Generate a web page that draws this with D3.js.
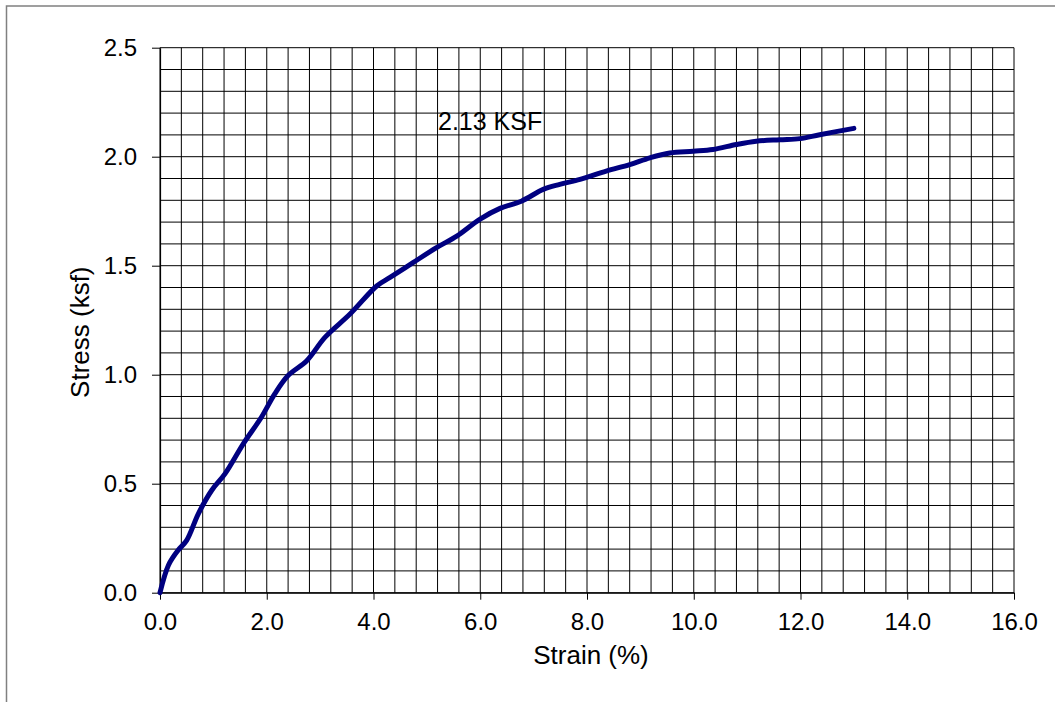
<!DOCTYPE html>
<html>
<head>
<meta charset="utf-8">
<script src="https://cdn.jsdelivr.net/npm/d3@7"></script>
<style>
  body { margin: 0; background: #fff; }
  text { font-family: Arial, "Liberation Sans", sans-serif; fill: #000; }
</style>
</head>
<body>
<script>
// Strain (%) readings
var strain = [0, 0.16, 0.34, 0.5, 0.72, 0.97, 1.22, 1.56, 1.9, 2.15, 2.4, 2.75, 3.09, 3.56,
  4.06, 4.31, 4.74, 5.18, 5.56, 5.99, 6.37, 6.77, 7.18, 7.49, 7.87, 8.36, 8.8, 9.18,
  9.55, 9.99, 10.36, 10.8, 11.17, 11.61, 11.99, 12.36, 13.0];
// Stress (ksf) readings
var stress = [0, 0.127, 0.195, 0.24, 0.363, 0.47, 0.546, 0.683, 0.805, 0.912, 0.996, 1.064, 1.171, 1.278,
  1.407, 1.446, 1.514, 1.583, 1.636, 1.713, 1.763, 1.796, 1.85, 1.873, 1.896, 1.934, 1.964, 1.995,
  2.017, 2.025, 2.033, 2.056, 2.071, 2.078, 2.083, 2.101, 2.13];

var xTicks = [0, 2, 4, 6, 8, 10, 12, 14, 16];
var yTicks = [0, 0.5, 1.0, 1.5, 2.0, 2.5];
var peakLabel = "2.13 KSF";

var svgWidth = 1055;
var svgHeight = 702;

var margin = { top: 47.7, right: 41, bottom: 109.3, left: 160 };
var width = svgWidth - margin.left - margin.right;
var height = svgHeight - margin.top - margin.bottom;

var svg = d3.select("body").append("svg")
  .attr("width", svgWidth)
  .attr("height", svgHeight);

// outer frame (only top and left edges show in the picture)
svg.append("rect")
  .attr("x", 6.5).attr("y", 6)
  .attr("width", 1060).attr("height", 720)
  .attr("fill", "none")
  .attr("stroke", "#808080")
  .attr("stroke-width", 1.5);

var g = svg.append("g")
  .attr("transform", `translate(${margin.left}, ${margin.top})`);

var x = d3.scaleLinear().domain([0, 16]).range([0, width]);
var y = d3.scaleLinear().domain([0, 2.5]).range([height, 0]);

// grid: every 0.4 % strain and every 0.1 ksf
var xGrid = d3.range(0, 41).map(i => i * 0.4);
var yGrid = d3.range(0, 26).map(i => i * 0.1);

g.append("g").selectAll("line")
  .data(xGrid)
  .enter().append("line")
  .attr("x1", d => x(d)).attr("x2", d => x(d))
  .attr("y1", 0).attr("y2", height)
  .attr("stroke", "#000").attr("stroke-width", 1);

g.append("g").selectAll("line")
  .data(yGrid)
  .enter().append("line")
  .attr("x1", 0).attr("x2", width)
  .attr("y1", d => y(d)).attr("y2", d => y(d))
  .attr("stroke", "#000").attr("stroke-width", 1);

// axes
var bottomAxis = d3.axisBottom(x).tickValues(xTicks).tickFormat(d3.format(".1f"))
  .tickSizeInner(7).tickSizeOuter(0).tickPadding(13);
var leftAxis = d3.axisLeft(y).tickValues(yTicks).tickFormat(d3.format(".1f"))
  .tickSizeInner(8).tickSizeOuter(0).tickPadding(15);

var xAxis = g.append("g")
  .attr("transform", `translate(0, ${height})`)
  .call(bottomAxis);
var yAxis = g.append("g").call(leftAxis);

[xAxis, yAxis].forEach(function(a) {
  a.selectAll("path").attr("stroke", "#000").attr("stroke-width", 1.2);
  a.selectAll("line").attr("stroke", "#000").attr("stroke-width", 1);
  a.selectAll("text")
    .attr("font-family", "Arial, 'Liberation Sans', sans-serif")
    .attr("font-size", 24)
    .attr("fill", "#000");
});

// stress-strain curve
var pts = strain.map((s, i) => [s, stress[i]]);
var line = d3.line()
  .x(d => x(d[0]))
  .y(d => y(d[1]))
  .curve(d3.curveCatmullRom.alpha(0.5));

g.append("path")
  .datum(pts)
  .attr("d", line)
  .attr("fill", "none")
  .attr("stroke", "#000080")
  .attr("stroke-width", 5)
  .attr("stroke-linecap", "round")
  .attr("stroke-linejoin", "round");

// peak label
g.append("text")
  .attr("x", 438 - margin.left)
  .attr("y", 130 - margin.top)
  .attr("font-size", 25)
  .text(peakLabel);

// axis titles
svg.append("text")
  .attr("x", 591)
  .attr("y", 664)
  .attr("text-anchor", "middle")
  .attr("font-size", 26)
  .text("Strain (%)");

svg.append("text")
  .attr("transform", `translate(89, ${margin.top + height / 2 + 12}) rotate(-90)`)
  .attr("text-anchor", "middle")
  .attr("font-size", 26)
  .text("Stress (ksf)");
</script>
</body>
</html>
